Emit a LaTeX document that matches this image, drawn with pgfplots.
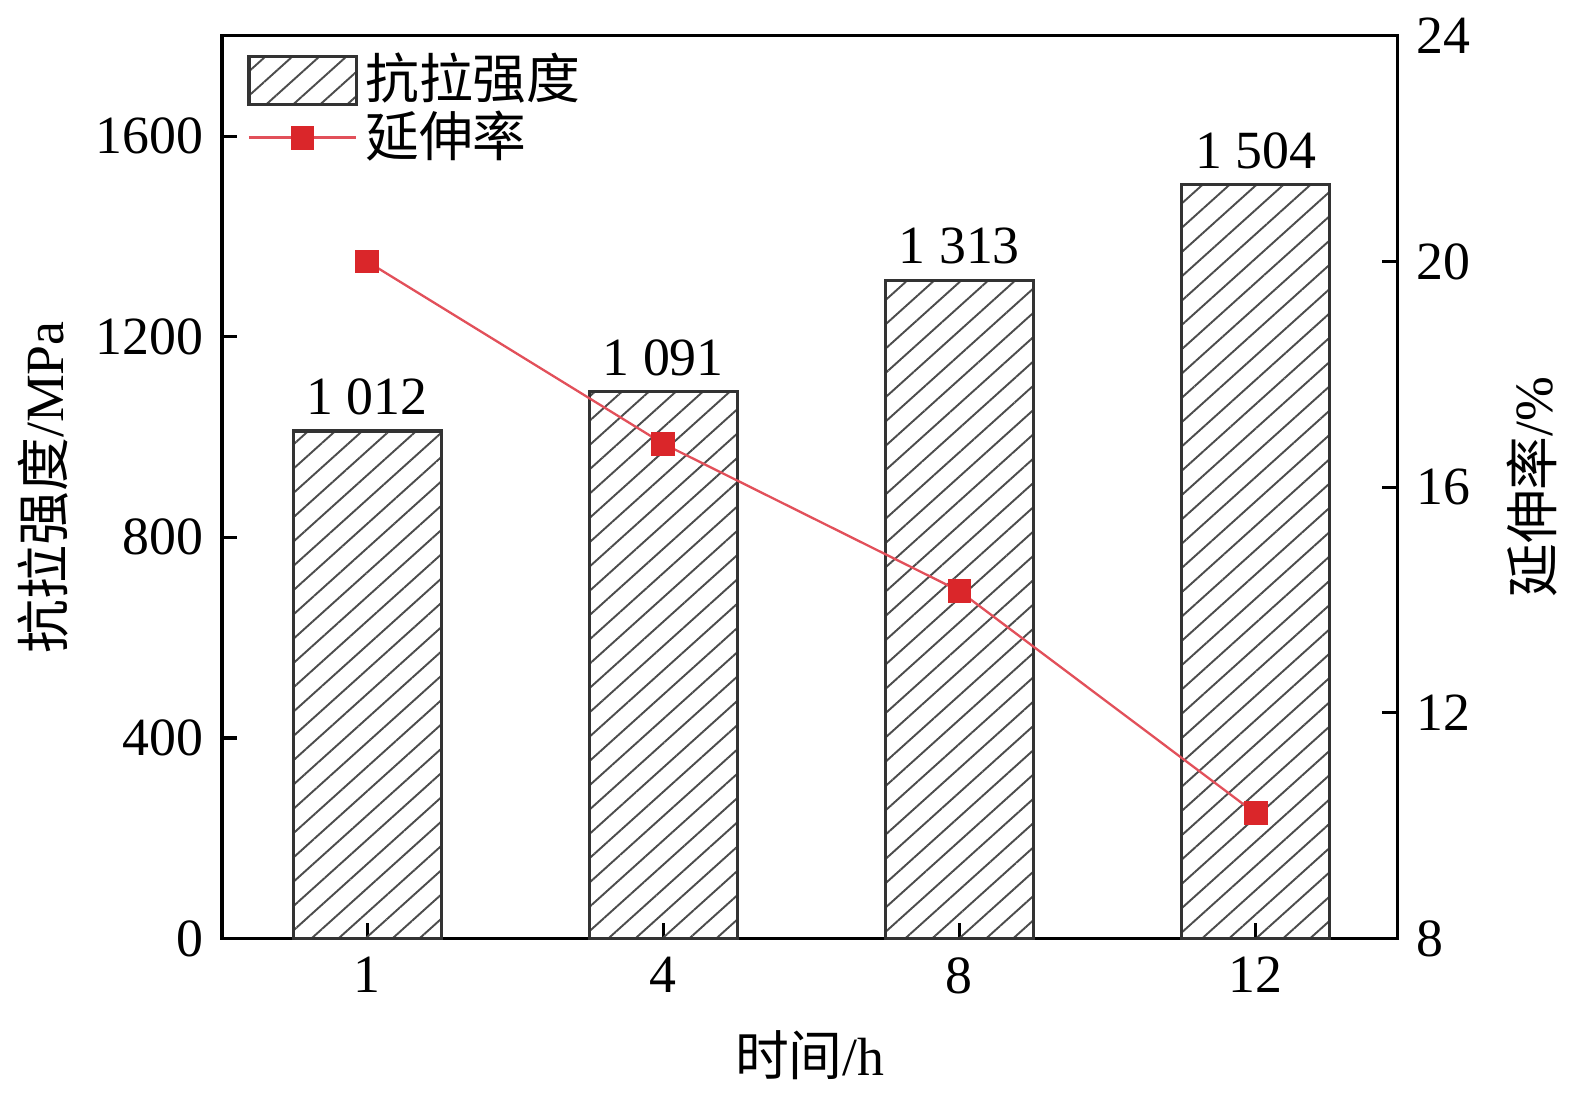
\documentclass[border=0pt]{standalone}
\usepackage{fontspec}
\setmainfont{Liberation Serif}
\newfontfamily\cjk{Noto Sans CJK SC}
\usepackage{pgfplots}
\pgfplotsset{compat=1.18}
\usetikzlibrary{patterns.meta}
\definecolor{myred}{RGB}{218,38,42}
\definecolor{linered}{RGB}{226,80,90}
\pgfplotsset{
  barleg/.style={legend image code/.code={\draw[##1] (0cm,-0.22cm) rectangle (0.98cm,0.22cm);}},
  lineleg/.style={legend image code/.code={\draw[mark repeat=2,mark phase=2,##1] plot coordinates {(0cm,0cm) (0.49cm,0cm) (0.98cm,0cm)};}},
}
\begin{document}
\fontsize{14}{16}\selectfont
\begin{tikzpicture}
\begin{axis}[
  scale only axis, width=306pt, height=235pt,
  xmin=-0.49, xmax=3.48, ymin=0, ymax=1800,
  xtick={0,1,2,3}, xticklabels={1,4,8,12},
  ytick={0,400,800,1200,1600},
  xtick pos=bottom, ytick pos=left,
  tick align=inside, major tick length=4pt,
  every tick/.style={black, line width=0.8pt},
  axis line style={line width=0.9pt},
  ticklabel style={font=\fontsize{14}{16}\selectfont},
  /pgf/number format/assume math mode=true,
  /pgf/number format/1000 sep={},
  xlabel={{\cjk 时间}/h},
  ylabel={{\cjk 抗拉强度}/MPa},
  label style={font=\fontsize{14}{16}\selectfont},
  xlabel style={yshift=0pt},
  ylabel style={yshift=-2.4pt},
  clip=false,
  legend style={at={(0.021,0.99)}, anchor=north west, draw=none, fill=none,
    font=\fontsize{14}{16}\selectfont\cjk, row sep=-3pt, inner sep=0pt,
    cells={anchor=west}},
]
\addplot[ybar, bar width=0.5, draw=black!80, line width=0.8pt,
  postaction={pattern={Lines[angle=42, distance=4.7pt, line width=0.5pt]}, pattern color=black!70},
  nodes near coords, point meta=explicit symbolic,
  every node near coord/.append style={font=\fontsize{14}{16}\selectfont, yshift=-1pt},
  barleg
] coordinates {(0,1012) [1 012] (1,1091) [1 091] (2,1313) [1 313] (3,1504) [1 504]};
\addlegendentry{抗拉强度}
\addlegendimage{linered, line width=0.6pt, mark=square*, mark size=2.8pt, mark options={fill=myred, draw=myred}, lineleg}
\addlegendentry{延伸率}
\end{axis}
\begin{axis}[
  scale only axis, width=306pt, height=235pt,
  xmin=-0.49, xmax=3.48, ymin=8, ymax=24,
  ytick={8,12,16,20,24},
  axis y line*=right, axis x line=none,
  tick align=inside, major tick length=4pt,
  every tick/.style={black, line width=0.8pt},
  axis line style={line width=0.9pt},
  ticklabel style={font=\fontsize{14}{16}\selectfont},
  /pgf/number format/assume math mode=true,
  ylabel={{\cjk 延伸率}/\%},
  label style={font=\fontsize{14}{16}\selectfont},
]
\addplot[linered, line width=0.6pt, mark=square*, mark size=2.8pt, mark options={fill=myred, draw=myred}]
  coordinates {(0,20.0) (1,16.77) (2,14.16) (3,10.22)};
\end{axis}
\end{tikzpicture}
\end{document}
